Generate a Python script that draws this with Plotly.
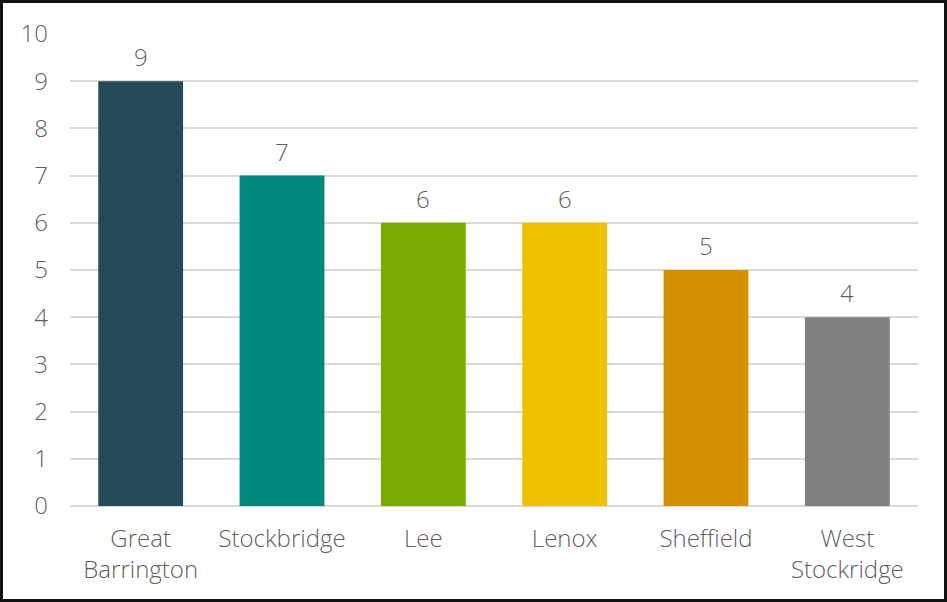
import plotly.graph_objects as go

towns = ["Great<br>Barrington", "Stockbridge", "Lee", "Lenox", "Sheffield", "West<br>Stockridge"]
counts = [9, 7, 6, 6, 5, 4]
bar_colors = ["#254B5A", "#00877B", "#7AAB00", "#EFC300", "#D39000", "#7F7F7F"]
y_ticks = list(range(0, 11))

W, H = 947, 602
L, R, T, B = 70, 29, 34, 96
pw, ph = W - L - R, H - T - B

text_color = "#5F5F5F"
font_family = "Open Sans, DejaVu Sans, sans-serif"
label_font = dict(size=24, color=text_color, family=font_family, weight=300)

fig = go.Figure(
    go.Bar(
        x=towns,
        y=counts,
        marker=dict(color=bar_colors, line=dict(width=0)),
        width=0.6,
        hoverinfo="x+y",
    )
)

# value labels above each bar
for t, v in zip(towns, counts):
    fig.add_annotation(
        x=t, y=v, text=str(v), showarrow=False,
        yanchor="bottom", yshift=6,
        font=label_font,
    )

# frame around the whole chart
fig.add_shape(
    type="rect", xref="paper", yref="paper",
    x0=(1.5 - L) / pw, x1=(W - 1.5 - L) / pw,
    y0=-(H - 1.5 - (H - B)) / ph,
    y1=(H - B - 1.5) / ph,
    line=dict(color="#111111", width=3),
    layer="above",
)

fig.update_layout(
    width=W, height=H,
    margin=dict(l=L, r=R, t=T, b=B, pad=0),
    paper_bgcolor="white",
    plot_bgcolor="white",
    showlegend=False,
    bargap=0.4,
    font=label_font,
    xaxis=dict(
        showgrid=False, zeroline=False, showline=False, ticks="",
        tickfont=label_font,
        ticklabelstandoff=16,
    ),
    yaxis=dict(
        range=[0, 10], tickvals=y_ticks, showgrid=True, gridcolor="#D9D9D9",
        gridwidth=2, zeroline=True, zerolinecolor="#D9D9D9", zerolinewidth=2,
        showline=False, ticks="", tickfont=label_font,
        ticklabelstandoff=21,
    ),
)

fig.write_html("out.html")
